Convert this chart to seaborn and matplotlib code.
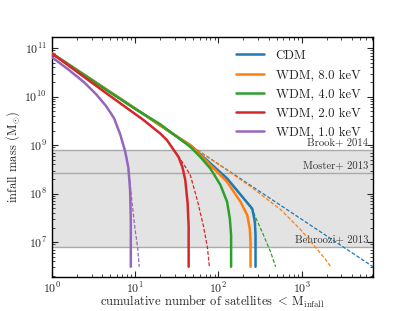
import numpy as np
import pandas as pd
import matplotlib
matplotlib.use("Agg")
import matplotlib.pyplot as plt
import seaborn as sns

# ---------------- data ----------------
labels = ["CDM", "WDM, 8.0 keV", "WDM, 4.0 keV", "WDM, 2.0 keV", "WDM, 1.0 keV"]

cdm_solid_N = [1, 10, 30, 46, 80, 127, 202, 255, 274, 279, 279]
cdm_solid_M = [7.8e10, 5.7e9, 1.6e9, 1.0e9, 4.2e8, 2.06e8, 7.9e7, 4.9e7, 2.6e7, 1.4e7, 3.1e6]
cdm_dash_N = [1, 10, 100, 1000, 7200]
cdm_dash_M = [7.8e10, 5.64e9, 4.08e8, 2.95e7, 3.1e6]

w8_solid_N = [1, 10, 30, 46, 80, 127, 184, 222, 238, 243, 243]
w8_solid_M = [7.8e10, 5.7e9, 1.6e9, 1.0e9, 3.9e8, 1.75e8, 6.8e7, 3.6e7, 1.9e7, 1.0e7, 3.1e6]
w8_dash_N = [1, 10, 100, 250, 558, 973, 1406, 1857, 2236]
w8_dash_M = [7.8e10, 5.7e9, 4.05e8, 1.35e8, 4.7e7, 1.8e7, 8.5e6, 4.8e6, 3.1e6]

w4_solid_N = [1, 4.56, 10, 20, 46, 60.7, 80, 106, 127, 137, 142, 142]
w4_solid_M = [7.8e10, 1.36e10, 5.6e9, 2.7e9, 9.2e8, 5.7e8, 3.3e8, 1.5e8, 6.8e7, 3.1e7, 1.4e7, 3.1e6]
w4_dash_N = [1, 10, 46, 80, 130, 200, 255, 336, 423, 486]
w4_dash_M = [7.8e10, 5.6e9, 9.6e8, 4.3e8, 1.9e8, 8.0e7, 4.6e7, 1.6e7, 6.3e6, 3.1e6]

w2_solid_N = [1, 4.56, 12.6, 20, 24.1, 33.2, 37, 40, 42.7, 43.9, 43.9]
w2_solid_M = [7.8e10, 1.16e10, 3.3e9, 1.74e9, 1.27e9, 5.7e8, 3.5e8, 1.9e8, 6.3e7, 2.1e7, 3.1e6]
w2_dash_N = [1, 4.56, 12.6, 20, 24.1, 33.2, 40, 46, 55.8, 65.9, 73.7, 77.9]
w2_dash_M = [7.8e10, 1.16e10, 3.3e9, 1.74e9, 1.27e9, 5.8e8, 3.6e8, 2.4e8, 7.3e7, 2.2e7, 7.9e6, 3.1e6]

w1_solid_N = [1, 1.56, 2.43, 3.39, 4.48, 5.58, 6.6, 7.58, 8.3, 8.7, 8.87, 8.87]
w1_solid_M = [6.5e10, 3.69e10, 1.99e10, 1.13e10, 6.4e9, 3.6e9, 1.69e9, 7.5e8, 3.4e8, 1.18e8, 2.8e7, 3.1e6]
w1_dash_N = [1, 1.56, 2.43, 3.39, 4.48, 5.58, 6.6, 7.58, 8.0, 8.59, 9.2, 10.0, 10.7, 11.2]
w1_dash_M = [6.5e10, 3.69e10, 1.99e10, 1.13e10, 6.4e9, 3.6e9, 1.69e9, 7.5e8, 4.9e8, 1.9e8, 6.4e7, 1.77e7, 7.9e6, 3.1e6]

band_low, band_high = 8.0e6, 8.0e8
ref_names = ["Brook+ 2014", "Moster+ 2013", "Behroozi+ 2013"]
ref_masses = [8.0e8, 2.7e8, 8.0e6]

solid_sets = [(cdm_solid_N, cdm_solid_M), (w8_solid_N, w8_solid_M), (w4_solid_N, w4_solid_M),
              (w2_solid_N, w2_solid_M), (w1_solid_N, w1_solid_M)]
dash_sets = [(cdm_dash_N, cdm_dash_M), (w8_dash_N, w8_dash_M), (w4_dash_N, w4_dash_M),
             (w2_dash_N, w2_dash_M), (w1_dash_N, w1_dash_M)]

# ---------------- style ----------------
sns.set_style("ticks")
plt.rcParams["font.family"] = ["cmr10", "DejaVu Serif"]
plt.rcParams["mathtext.fontset"] = "cm"
plt.rcParams["axes.formatter.use_mathtext"] = True
plt.rcParams["axes.unicode_minus"] = False

colors = sns.color_palette("tab10", 5)

fig = plt.figure(figsize=(4.15, 3.11), dpi=100)
ax = fig.add_axes([0.125, 0.109, 0.774, 0.772])

ax.axhspan(band_low, band_high, color="#e3e3e3", zorder=0, lw=0)
for name, m in zip(ref_names, ref_masses):
    ax.axhline(m, color="#aaaaaa", lw=1.0, zorder=1)
    ax.text(0.985, m * 1.1, name, transform=ax.get_yaxis_transform(), ha="right", va="bottom",
            fontsize=7.7, color="#333333", zorder=2)

for (N, M), c in zip(dash_sets, colors):
    df = pd.DataFrame({"N": N, "M": M})
    sns.lineplot(data=df, x="N", y="M", ax=ax, color=c, lw=0.9, sort=False,
                 estimator=None, zorder=3, linestyle=(0, (3, 1.5)))

for (N, M), c, lab in zip(solid_sets, colors, labels):
    df = pd.DataFrame({"N": N, "M": M})
    sns.lineplot(data=df, x="N", y="M", ax=ax, color=c, lw=1.8, sort=False,
                 estimator=None, zorder=4, label=lab)

ax.set_xscale("log")
ax.set_yscale("log")
ax.set_xlim(1, 7200)
ax.set_ylim(1.9e6, 1.7e11)
ax.set_xlabel(r"cumulative number of satellites $<\,\mathrm{M}_{\mathrm{infall}}$", fontsize=9, labelpad=-1)
ax.set_ylabel(r"infall mass ($\mathrm{M}_{\odot}$)", fontsize=9, labelpad=2)
ax.tick_params(which="both", direction="in", top=True, right=True, labelsize=8.6)
ax.tick_params(axis="x", which="major", pad=2.5)
ax.tick_params(which="major", length=4, width=0.8)
ax.tick_params(which="minor", length=2, width=0.6)
ax.xaxis.set_major_locator(matplotlib.ticker.LogLocator(base=10, numticks=10))
ax.xaxis.set_minor_locator(matplotlib.ticker.LogLocator(base=10, subs=np.arange(2, 10), numticks=100))
ax.yaxis.set_minor_locator(matplotlib.ticker.LogLocator(base=10, subs=np.arange(2, 10), numticks=100))
for s in ax.spines.values():
    s.set_linewidth(1.0)
    s.set_color("black")

leg = ax.legend(loc="upper right", frameon=False, fontsize=9.2, handlelength=2.2,
                handletextpad=0.9, borderaxespad=0.6, labelspacing=0.55)

fig.savefig("out.png", dpi=100)
